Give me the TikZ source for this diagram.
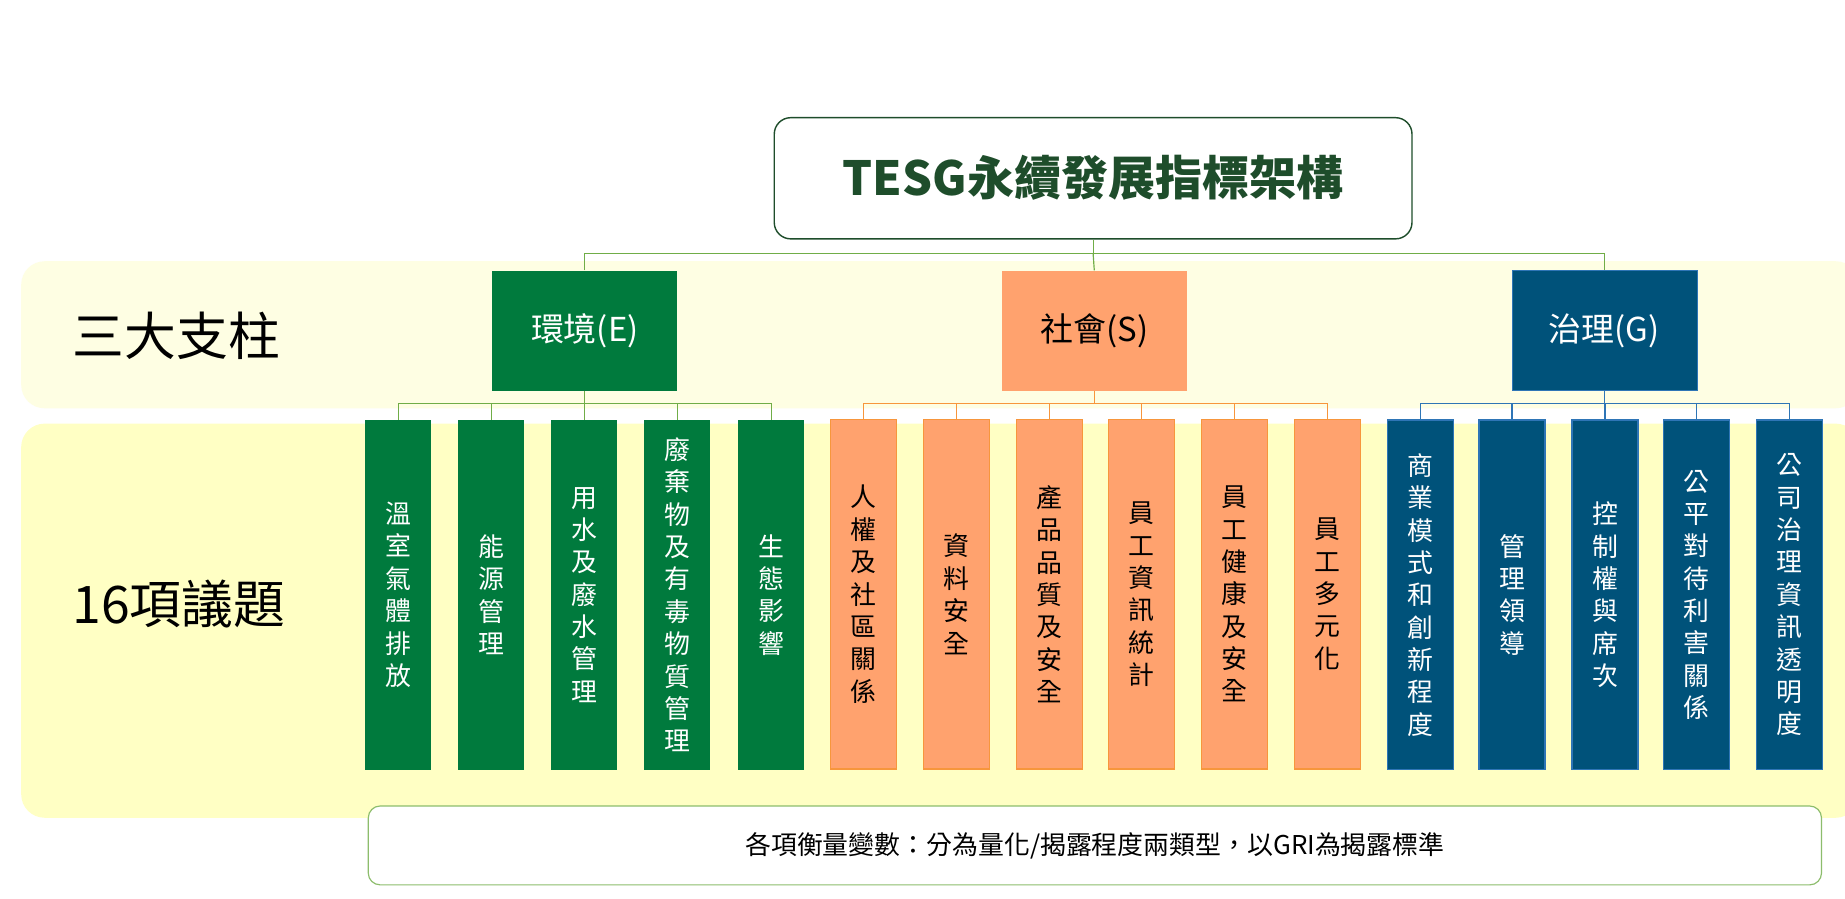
\documentclass[tikz,border=0pt]{standalone}
\usepackage{fontspec}
\setmainfont{Noto Sans CJK TC}
\definecolor{eg}{HTML}{007A3D}
\definecolor{so}{HTML}{FFA26E}
\definecolor{sob}{HTML}{F7963C}
\definecolor{gb}{HTML}{00527A}
\definecolor{gbb}{HTML}{2E75B6}
\definecolor{tg}{HTML}{1E4D2B}
\definecolor{ln}{HTML}{70AD47}
\definecolor{b1}{HTML}{FEFEE3}
\definecolor{b2}{HTML}{FFFFC4}
\begin{document}
\begin{tikzpicture}[x=1pt,y=-1pt,
 item/.style={minimum width=56pt,minimum height=297pt,inner sep=0pt,align=center,font=\fontsize{22}{27.5}\selectfont},
 pil/.style={minimum width=157pt,minimum height=102pt,inner sep=0pt,font=\fontsize{28}{32}\selectfont},
 ie/.style={item,fill=eg,text=white},
 is/.style={item,fill=so,draw=sob,line width=1pt,text=black},
 ig/.style={item,fill=gb,draw=gbb,line width=1pt,text=white},
 conn/.style={line width=1pt}]
\useasboundingbox (0,0) rectangle (1568,764);
\fill[white] (0,0) rectangle (1568,764);
\fill[b1,rounded corners=20pt] (18,222) rectangle (1580,347);
\fill[b2,rounded corners=20pt] (18,360) rectangle (1580,695);
\node at (150,285) {\fontsize{44}{50}\selectfont 三大支柱};
\node at (152,513) {\fontsize{44}{50}\selectfont 16項議題};
\node[draw=tg,line width=1.2pt,rounded corners=14pt,minimum width=542pt,minimum height=103pt,text=tg,font=\fontsize{40}{46}\selectfont\bfseries] (t) at (929,151.5) {TESG永續發展指標架構};
\node[pil,fill=eg,text=white] (E) at (497,281) {環境(E)};
\node[pil,fill=so,text=black] (S) at (930,281) {社會(S)};
\node[pil,fill=gb,draw=gbb,text=white] (G) at (1363.5,281) {治理(G)};
\draw[conn,ln] (t.south) -- ++(0,12) coordinate (tj);
\draw[conn,ln] (E.north) |- (tj) -| (G.north);
\draw[conn,ln] (tj) -- (S.north);
\node[ie] (e1) at (338.5,505.5) {溫\\室\\氣\\體\\排\\放};
\node[ie] (e2) at (417.5,505.5) {能\\源\\管\\理};
\node[ie] (e3) at (496.5,505.5) {用\\水\\及\\廢\\水\\管\\理};
\node[ie] (e4) at (575.5,505.5) {廢\\棄\\物\\及\\有\\毒\\物\\質\\管\\理};
\node[ie] (e5) at (655.5,505.5) {生\\態\\影\\響};
\node[is] (s1) at (734,505) {人\\權\\及\\社\\區\\關\\係};
\node[is] (s2) at (813,505) {資\\料\\安\\全};
\node[is] (s3) at (892,505) {產\\品\\品\\質\\及\\安\\全};
\node[is] (s4) at (970,505) {員\\工\\資\\訊\\統\\計};
\node[is] (s5) at (1049,505) {員\\工\\健\\康\\及\\安\\全};
\node[is] (s6) at (1128,505) {員\\工\\多\\元\\化};
\node[ig] (g1) at (1207,505.5) {商\\業\\模\\式\\和\\創\\新\\程\\度};
\node[ig] (g2) at (1285,505.5) {管\\理\\領\\導};
\node[ig] (g3) at (1364,505.5) {控\\制\\權\\與\\席\\次};
\node[ig] (g4) at (1442,505.5) {公\\平\\對\\待\\利\\害\\關\\係};
\node[ig] (g5) at (1521,505.5) {公\\司\\治\\理\\資\\訊\\透\\明\\度};
\draw[conn,ln] (E.south) -- ++(0,11) coordinate (ej);
\foreach \n in {e1,e2,e3,e4,e5} \draw[conn,ln] (\n.north) |- (ej);
\draw[conn,sob] (S.south) -- ++(0,11) coordinate (sj);
\foreach \n in {s1,s2,s3,s4,s5,s6} \draw[conn,sob] (\n.north) |- (sj);
\draw[conn,gbb] (G.south) -- ++(0,11) coordinate (gj);
\foreach \n in {g1,g2,g3,g4,g5} \draw[conn,gbb] (\n.north) |- (gj);
\node[draw=ln!80,fill=white,line width=1pt,rounded corners=10pt,minimum width=1235pt,minimum height=67pt,font=\fontsize{22}{26}\selectfont] (bt) at (930.5,718.5) {各項衡量變數：分為量化/揭露程度兩類型，以GRI為揭露標準};
\end{tikzpicture}
\end{document}
